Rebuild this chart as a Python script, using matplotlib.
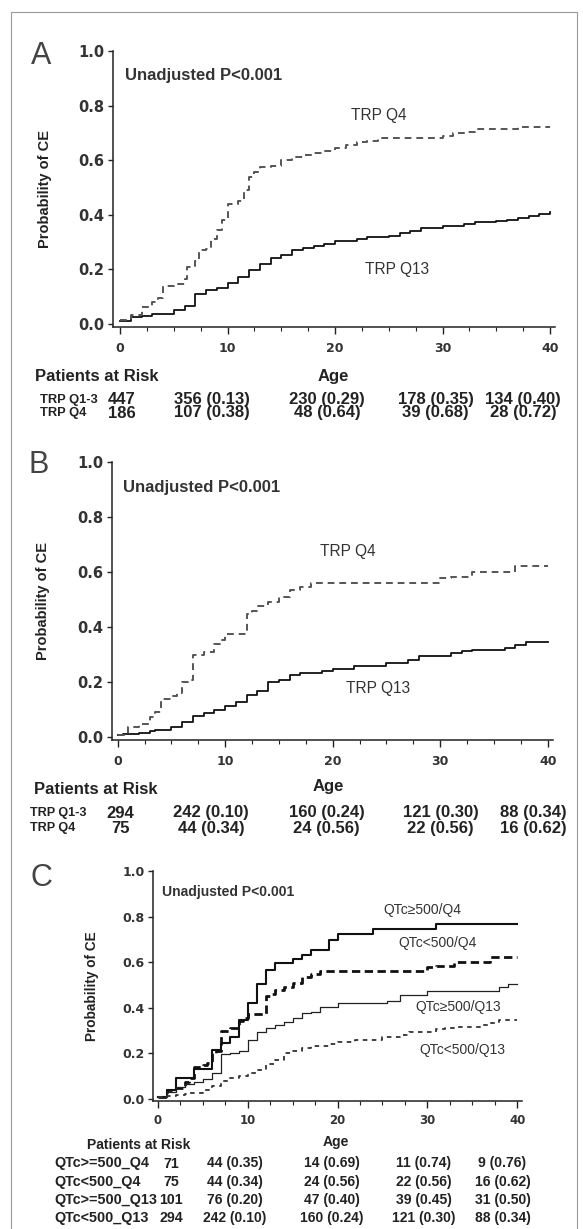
import numpy as np
import matplotlib
matplotlib.use('Agg')
from matplotlib import pyplot as plt
from matplotlib.patches import Rectangle

W, H = 583, 1229

# ---- panel A : TRP Q1-3 vs TRP Q4 (all patients) ----
a_q13_age = [0, 1, 2, 3, 5, 6, 7, 8, 9, 10, 11, 12, 13, 14, 15, 16, 17, 18, 19, 20,
             22, 23, 25, 26, 27, 28, 30, 32, 33, 35, 36, 37, 38, 39, 40]
a_q13_ce = [0.012, 0.025, 0.028, 0.038, 0.05, 0.065, 0.11, 0.123, 0.132, 0.15, 0.172,
            0.197, 0.218, 0.243, 0.252, 0.27, 0.28, 0.286, 0.292, 0.305, 0.312, 0.318,
            0.324, 0.332, 0.342, 0.352, 0.358, 0.366, 0.372, 0.376, 0.382, 0.388,
            0.396, 0.403, 0.412]
a_q4_age = [0, 1, 2, 3, 3.5, 4, 5, 6, 6.2, 7, 7.3, 8, 8.5, 9, 9.5, 10, 11, 11.5, 12,
            12.5, 13, 14, 15, 16, 17, 18, 19, 20, 21, 22, 23, 24, 30, 31, 32, 33, 37, 40]
a_q4_ce = [0.015, 0.033, 0.062, 0.08, 0.095, 0.14, 0.145, 0.165, 0.21, 0.23, 0.27,
           0.275, 0.31, 0.345, 0.38, 0.44, 0.45, 0.49, 0.54, 0.555, 0.575, 0.58, 0.6,
           0.612, 0.618, 0.625, 0.635, 0.645, 0.655, 0.665, 0.672, 0.68, 0.69, 0.698,
           0.705, 0.713, 0.722, 0.722]
a_rows = ['TRP Q1-3', 'TRP Q4']
a_at_risk = [[447, 356, 230, 178, 134], [186, 107, 48, 39, 28]]
a_prob = [[0.13, 0.29, 0.35, 0.40], [0.38, 0.64, 0.68, 0.72]]

# ---- panel B : TRP Q1-3 vs TRP Q4 (QTc < 500) ----
b_q13_age = [0, 0.5, 2, 3, 3.5, 5, 6, 7, 8, 9, 10, 11, 12, 13, 14, 15, 16, 17, 19, 20,
             22, 25, 27, 28, 31, 32, 33, 36, 37, 38, 40]
b_q13_ce = [0.008, 0.013, 0.016, 0.022, 0.027, 0.038, 0.055, 0.078, 0.09, 0.1, 0.115,
            0.127, 0.152, 0.17, 0.2, 0.21, 0.225, 0.232, 0.242, 0.25, 0.26, 0.27, 0.28,
            0.296, 0.305, 0.312, 0.318, 0.325, 0.334, 0.345, 0.348]
b_q4_age = [0, 1, 2, 3, 3.5, 4, 5, 5.5, 6, 6.5, 7, 8, 9, 9.5, 10, 12, 12.5, 13, 14, 15,
            16, 17, 18, 30, 31, 33, 37, 40]
b_q4_ce = [0.008, 0.038, 0.05, 0.075, 0.093, 0.14, 0.15, 0.16, 0.2, 0.21, 0.3, 0.31,
           0.34, 0.355, 0.375, 0.45, 0.46, 0.477, 0.493, 0.51, 0.535, 0.548, 0.56,
           0.578, 0.584, 0.6, 0.623, 0.623]
b_rows = ['TRP Q1-3', 'TRP Q4']
b_at_risk = [[294, 242, 160, 121, 88], [75, 44, 24, 22, 16]]
b_prob = [[0.10, 0.24, 0.30, 0.34], [0.34, 0.56, 0.56, 0.62]]

# ---- panel C : QTc x TRP groups (QTc<500 groups are the panel B curves) ----
c_hi_q4_age = [0, 1, 2, 4, 6, 7, 8, 9, 10, 11, 12, 13, 15, 16, 17, 19, 20, 24, 31, 40]
c_hi_q4_ce = [0.01, 0.04, 0.09, 0.13, 0.215, 0.245, 0.273, 0.347, 0.423, 0.505, 0.566,
              0.598, 0.614, 0.632, 0.654, 0.698, 0.724, 0.745, 0.768, 0.768]
c_hi_q13_age = [0, 1, 2, 3, 4, 5, 6, 7, 8, 9, 10, 11, 12, 13, 14, 15, 16, 17, 18, 20,
                25.5, 27, 30, 38, 39, 40]
c_hi_q13_ce = [0.01, 0.032, 0.054, 0.065, 0.075, 0.086, 0.115, 0.197, 0.203, 0.212,
               0.259, 0.295, 0.31, 0.325, 0.339, 0.354, 0.376, 0.383, 0.405, 0.42,
               0.431, 0.456, 0.474, 0.49, 0.503, 0.503]
c_rows = ['QTc>=500_Q4', 'QTc<500_Q4', 'QTc>=500_Q13', 'QTc<500_Q13']
c_at_risk = [[71, 44, 14, 11, 9], [75, 44, 24, 22, 16], [101, 76, 47, 39, 31],
             [294, 242, 160, 121, 88]]
c_prob = [[0.35, 0.69, 0.74, 0.76], [0.34, 0.56, 0.56, 0.62], [0.20, 0.40, 0.45, 0.50],
          [0.10, 0.24, 0.30, 0.34]]

BOLD = 'Liberation Sans'
TXT = '#222222'


def fx(x):
    return x / W


def fy(y):
    return 1 - y / H


def add_axes(fig, left, top, width, bottom, xmin):
    ax = fig.add_axes([fx(left), fy(bottom), width / W, (bottom - top) / H])
    ax.set_xlim(xmin, 40.5)
    ax.set_ylim(-0.01, 1.0)
    return ax


def style_axes(ax, xsize, ysize, xpad):
    for s in ['top', 'right']:
        ax.spines[s].set_visible(False)
    for s in ['left', 'bottom']:
        ax.spines[s].set_linewidth(1.1)
        ax.spines[s].set_color('#222222')
    ax.set_xticks([0, 10, 20, 30, 40])
    ax.set_xticks(np.arange(0, 40.1, 2.5), minor=True)
    ax.set_xticklabels(['0', '10', '20', '30', '40'], fontweight='bold',
                       fontsize=xsize, color='#333333', family='DejaVu Sans')
    yt = [0, 0.2, 0.4, 0.6, 0.8, 1.0]
    ax.set_yticks(yt)
    ax.set_yticklabels(['%.1f' % v for v in yt], fontweight='bold', fontsize=ysize,
                       color='#333333', family='DejaVu Sans')
    ax.tick_params(axis='x', which='major', direction='out', length=5, width=1.0,
                   pad=xpad, color='#222222')
    ax.tick_params(axis='x', which='minor', direction='out', length=3, width=0.8,
                   color='#222222')
    ax.tick_params(axis='y', which='major', direction='out', length=3.5, width=1.0,
                   pad=2.5, color='#222222')


def risk_table(fig, head_x, head_y, age_x, age_y, row_x, row_ys, count_x, col_xs,
               rows, at_risk, prob, sizes):
    head_size, row_size, count_size, val_size = sizes
    fig.text(fx(head_x), fy(head_y), 'Patients at Risk', family=BOLD, weight='bold',
             fontsize=head_size, color=TXT, ha='left', va='center')
    fig.text(fx(age_x), fy(age_y), 'Age', family=BOLD, weight='bold',
             fontsize=head_size, color=TXT, ha='center', va='center')
    for i in range(len(rows)):
        y = row_ys[i]
        fig.text(fx(row_x), fy(y), rows[i], family=BOLD, weight='bold',
                 fontsize=row_size, color=TXT, ha='left', va='center')
        fig.text(fx(count_x), fy(y), str(at_risk[i][0]), family=BOLD, weight='bold',
                 fontsize=count_size, color=TXT, ha='center', va='center')
        for j in range(4):
            fig.text(fx(col_xs[j]), fy(y), '%d (%.2f)' % (at_risk[i][j + 1], prob[i][j]),
                     family=BOLD, weight='bold', fontsize=val_size, color=TXT,
                     ha='center', va='center')


def main():
    fig = plt.figure(figsize=(W / 100, H / 100), dpi=100)
    fig.add_artist(Rectangle((fx(11), -0.01), (577 - 11) / W, fy(12) + 0.01, fill=False,
                             ec='#9a9a9a', lw=0.8, transform=fig.transFigure))

    # ---------------- A ----------------
    ax = add_axes(fig, 112.5, 51, 442.9, 326.7, -0.7)
    style_axes(ax, 9, 10.5, 6)
    ax.step(a_q13_age, a_q13_ce, where='post', color='#111111', lw=1.3)
    ax.step(a_q4_age, a_q4_ce, where='post', color='#555555', lw=1.4,
            linestyle=(0, (3.5, 2.5)))
    ax.text(0.47, 0.912, 'Unadjusted P<0.001', family=BOLD, weight='bold',
            fontsize=12, color='#333333', va='center')
    ax.text(24.07, 0.762, 'TRP Q4', family=BOLD, fontsize=11.2, color='#333333',
            ha='center', va='center')
    ax.text(25.8, 0.198, 'TRP Q13', family=BOLD, fontsize=11.2, color='#333333',
            ha='center', va='center')
    fig.text(fx(41), fy(56), 'A', family=BOLD, fontsize=22, color='#444444',
             ha='center', va='center')
    fig.text(fx(44.5), fy(189), 'Probability of CE', family=BOLD, weight='bold',
             fontsize=10.5, color=TXT, rotation=90, ha='center', va='center')
    risk_table(fig, 35, 376.7, 333, 376.7, 40, [399.5, 413], 122,
               [211.5, 327, 435.5, 523], a_rows, a_at_risk, a_prob, (12, 9.3, 12, 12))

    # ---------------- B ----------------
    ax = add_axes(fig, 111.7, 462.3, 441.4, 740.0, -0.56)
    style_axes(ax, 9, 10.5, 6)
    ax.step(b_q13_age, b_q13_ce, where='post', color='#111111', lw=1.3)
    ax.step(b_q4_age, b_q4_ce, where='post', color='#555555', lw=1.4,
            linestyle=(0, (3.5, 2.5)))
    ax.text(0.49, 0.907, 'Unadjusted P<0.001', family=BOLD, weight='bold',
            fontsize=12, color='#333333', va='center')
    ax.text(21.4, 0.675, 'TRP Q4', family=BOLD, fontsize=11.2, color='#333333',
            ha='center', va='center')
    ax.text(24.2, 0.176, 'TRP Q13', family=BOLD, fontsize=11.2, color='#333333',
            ha='center', va='center')
    fig.text(fx(39), fy(465), 'B', family=BOLD, fontsize=22, color='#444444',
             ha='center', va='center')
    fig.text(fx(43), fy(601), 'Probability of CE', family=BOLD, weight='bold',
             fontsize=10.5, color=TXT, rotation=90, ha='center', va='center')
    risk_table(fig, 33.5, 790, 328, 786.7, 30, [813, 828.5], 120,
               [211, 326.5, 440.5, 533.5], b_rows, b_at_risk, b_prob, (12, 9.1, 12, 12))

    # ---------------- C ----------------
    ax = add_axes(fig, 152.7, 871, 369.1, 1101.3, -0.56)
    style_axes(ax, 8.5, 9, 4)
    ax.step(c_hi_q4_age, c_hi_q4_ce, where='post', color='#111111', lw=1.5)
    ax.step(b_q4_age, b_q4_ce, where='post', color='#111111', lw=2.0,
            linestyle=(0, (3, 1.6)))
    ax.step(c_hi_q13_age, c_hi_q13_ce, where='post', color='#222222', lw=0.9)
    ax.step(b_q13_age, b_q13_ce, where='post', color='#333333', lw=1.3,
            linestyle=(0, (2.5, 2.5)))
    ax.text(0.48, 0.909, 'Unadjusted P<0.001', family=BOLD, weight='bold',
            fontsize=10, color='#333333', va='center')
    ax.text(29.4, 0.828, 'QTc\u2265500/Q4', family=[BOLD, 'DejaVu Sans'], fontsize=10,
            color='#333333', ha='center', va='center')
    ax.text(31.1, 0.686, 'QTc<500/Q4', family=BOLD, fontsize=10, color='#333333',
            ha='center', va='center')
    ax.text(33.4, 0.405, 'QTc\u2265500/Q13', family=[BOLD, 'DejaVu Sans'], fontsize=10,
            color='#333333', ha='center', va='center')
    ax.text(33.9, 0.215, 'QTc<500/Q13', family=BOLD, fontsize=10, color='#333333',
            ha='center', va='center')
    fig.text(fx(41), fy(878), 'C', family=BOLD, fontsize=22, color='#444444',
             ha='center', va='center')
    fig.text(fx(92), fy(986), 'Probability of CE', family=BOLD, weight='bold',
             fontsize=9.8, color=TXT, rotation=90, ha='center', va='center')
    risk_table(fig, 87, 1145, 336, 1141.7, 54, [1163.5, 1181.7, 1200, 1218.3], 171,
               [234.5, 332, 423.5, 502.5], c_rows, c_at_risk, c_prob, (10, 10.4, 10.2, 10))

    fig.savefig('out.png', dpi=100, facecolor='white')


if __name__ == '__main__':
    main()
